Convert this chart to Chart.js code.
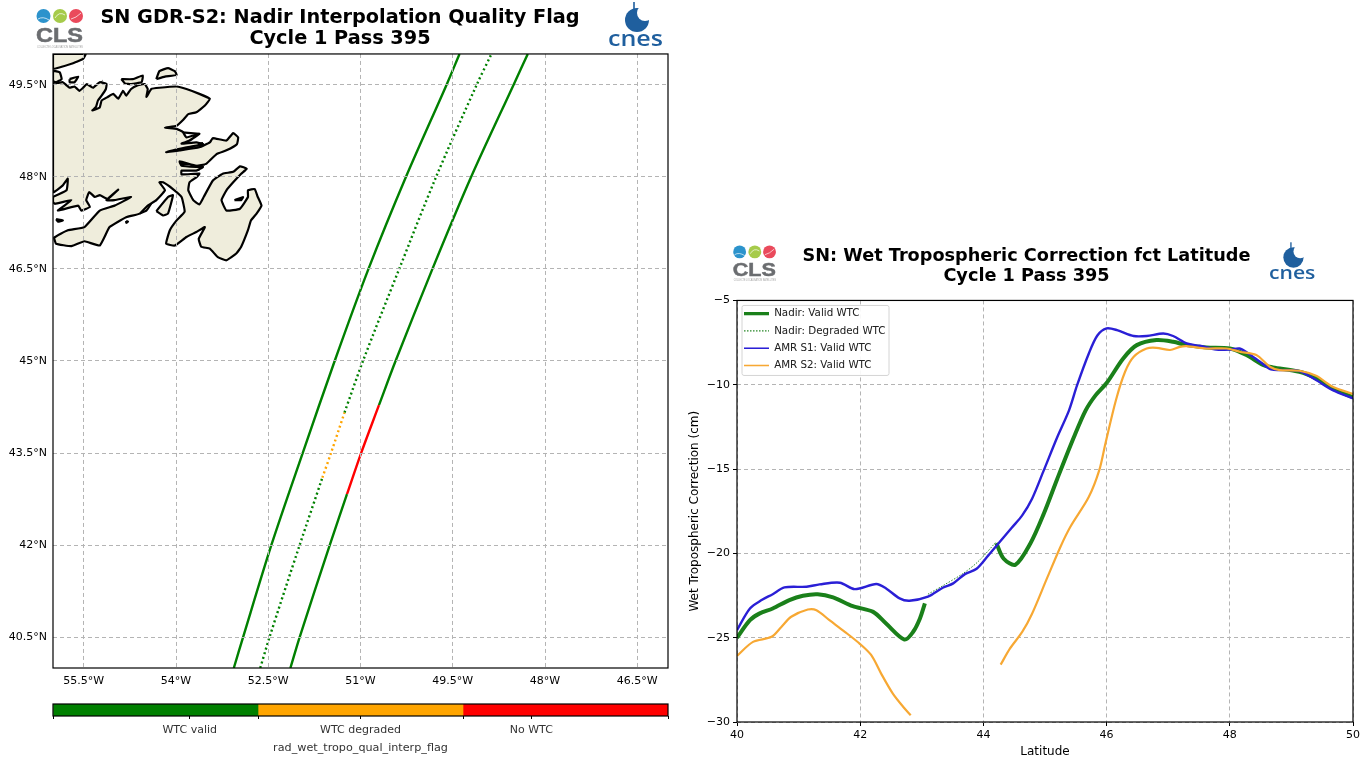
<!DOCTYPE html>
<html>
<head>
<meta charset="utf-8">
<title>SN GDR-S2 Nadir WTC</title>
<script src="https://cdn.jsdelivr.net/npm/chart.js@4/dist/chart.umd.min.js"></script>
<style>
  body { margin: 0; background: #fff; width: 1367px; height: 760px; overflow: hidden; position: relative; }
  canvas { position: absolute; filter: blur(0.4px); }
  #mapChart { left: 0; top: 0; }
  #flagChart { left: 0; top: 695px; }
  #wtcChart { left: 688px; top: 235px; }
  svg { position: absolute; left: 0; top: 0; filter: blur(0.4px); }
</style>
</head>
<body>
<canvas id="mapChart" width="680" height="695"></canvas>
<canvas id="flagChart" width="680" height="65"></canvas>
<canvas id="wtcChart" width="677" height="525"></canvas>

<!-- logos -->
<svg width="1367" height="760" xmlns="http://www.w3.org/2000/svg">
  <g id="cls">
    <circle cx="43.5" cy="16" r="7" fill="#2c93cc"/>
    <circle cx="60" cy="16" r="7" fill="#a6cb4b"/>
    <circle cx="76" cy="16" r="7" fill="#ea4a5c"/>
    <path d="M38 19q5 -3 11 1M55 18q4 -7 10 -3M71 19q5 -1 10 -6" stroke="#fff" stroke-width="1" fill="none" opacity=".7"/>
    <text x="36" y="42" font-family="Liberation Sans" font-weight="bold" font-size="20" fill="#6b6d70" stroke="#6b6d70" stroke-width=".5" textLength="47" lengthAdjust="spacingAndGlyphs">CLS</text>
    <text x="37" y="48" font-family="Liberation Sans" font-size="3.4" fill="#a0a0a0" textLength="46" lengthAdjust="spacingAndGlyphs">COLLECTE LOCALISATION SATELLITES</text>
  </g>
  <g id="cnes">
    <circle cx="637" cy="20" r="12" fill="#1f5f9e"/>
    <circle cx="645" cy="13" r="8" fill="#fff"/>
    <rect x="633.2" y="2" width="1.6" height="14" fill="#1f5f9e"/>
    <text x="608" y="46" font-family="Open Sans" font-weight="600" font-size="21" fill="#1f5f9e" textLength="55" lengthAdjust="spacingAndGlyphs">cnes</text>
  </g>
  <use href="#cls" transform="translate(699.6 237.2) scale(.92)"/>
  <use href="#cnes" transform="translate(755.2 240.6) scale(.845)"/>
</svg>

<script>
// map ticks
var lonTicks = [-55.5, -54, -52.5, -51, -49.5, -48, -46.5];
var latTicks = [40.5, 42, 43.5, 45, 46.5, 48, 49.5];

// ground tracks (lon / lat)
var westLat = [40, 40.5, 42, 43.5, 45, 46.5, 48, 49.5, 50];
var westLon = [-53.06, -52.91, -52.45, -51.94, -51.42, -50.87, -50.26, -49.60, -49.39];

var midLowLat = [40, 40.5, 42, 43.1];
var midLowLon = [-52.63, -52.48, -51.99, -51.62];
var midDegradedLat = [43.1, 43.5, 44.16];
var midDegradedLon = [-51.62, -51.48, -51.26];
var midHighLat = [44.16, 45, 46.5, 48, 49.5, 50];
var midHighLon = [-51.26, -50.96, -50.37, -49.77, -49.11, -48.87];

var eastLowLat = [40, 40.5, 42, 42.83];
var eastLowLon = [-52.14, -51.99, -51.50, -51.22];
var eastNoWtcLat = [42.83, 43.5, 44.28];
var eastNoWtcLon = [-51.22, -50.99, -50.70];
var eastHighLat = [44.28, 45, 46.5, 48, 49.5, 50];
var eastHighLon = [-50.70, -50.43, -49.83, -49.20, -48.51, -48.28];

// coast of Newfoundland, [lon, lat]
var coastMain = [
  [-56,49.54],[-55.92,49.53],[-55.84,49.54],[-55.78,49.49],[-55.73,49.45],[-55.65,49.47],[-55.57,49.40],[-55.51,49.45],
  [-55.45,49.51],[-55.35,49.45],[-55.24,49.54],[-55.13,49.51],[-55.14,49.43],[-55.21,49.32],[-55.27,49.24],[-55.30,49.14],
  [-55.36,49.08],[-55.24,49.13],[-55.21,49.24],[-55.11,49.30],[-55.02,49.35],[-54.94,49.27],[-54.86,49.40],[-54.81,49.32],
  [-54.73,49.43],[-54.62,49.49],[-54.51,49.51],[-54.46,49.43],[-54.48,49.30],[-54.40,49.43],[-54.27,49.45],[-53.99,49.47],
  [-53.83,49.43],[-53.62,49.35],[-53.45,49.27],[-53.53,49.16],[-53.67,49.05],[-53.80,49.02],[-53.89,48.92],[-53.99,48.83],
  [-54.18,48.80],[-53.99,48.78],[-53.89,48.73],[-53.83,48.64],[-53.62,48.70],[-53.78,48.59],[-53.91,48.54],[-53.67,48.56],
  [-53.56,48.53],[-53.83,48.48],[-54.16,48.40],[-53.94,48.43],[-53.62,48.48],[-53.45,48.56],[-53.40,48.63],[-53.18,48.59],
  [-53.07,48.71],[-52.99,48.64],[-53.01,48.53],[-53.18,48.43],[-53.34,48.37],[-53.51,48.21],[-53.67,48.18],[-53.94,48.25],
  [-53.91,48.18],[-53.67,48.16],[-53.56,48.16],[-53.67,48.10],[-53.91,48.10],[-53.91,48.04],[-53.62,48.05],[-53.67,47.99],
  [-53.78,47.91],[-53.80,47.78],[-53.72,47.62],[-53.62,47.55],[-53.55,47.67],[-53.40,47.94],[-53.24,48.05],[-53.07,48.08],
  [-52.96,48.17],[-52.85,48.13],[-52.94,48.05],[-53.07,47.91],[-53.18,47.78],[-53.26,47.62],[-53.18,47.45],[-52.96,47.48],
  [-52.83,47.67],[-52.83,47.78],[-52.72,47.80],[-52.67,47.67],[-52.61,47.53],[-52.69,47.40],[-52.78,47.29],[-52.83,47.13],
  [-52.94,46.86],[-53.02,46.75],[-53.18,46.64],[-53.32,46.69],[-53.45,46.83],[-53.59,46.86],[-53.63,46.99],[-53.53,47.18],
  [-53.67,47.10],[-53.83,47.02],[-54.02,46.88],[-54.16,46.91],[-54.10,47.13],[-53.99,47.29],[-53.86,47.43],[-53.91,47.67],
  [-54.05,47.80],[-54.21,47.91],[-54.27,47.91],[-54.18,47.78],[-54.32,47.62],[-54.46,47.53],[-54.59,47.40],[-54.81,47.34],
  [-55.08,47.18],[-55.24,46.88],[-55.49,46.95],[-55.70,46.87],[-55.95,46.91],[-55.98,47.01],[-55.76,47.13],[-55.49,47.18],
  [-55.24,47.45],[-55.00,47.53],[-54.73,47.67],[-55.00,47.62],[-55.13,47.62],[-54.94,47.79],[-55.11,47.64],[-55.24,47.70],
  [-55.32,47.67],[-55.41,47.75],[-55.46,47.62],[-55.40,47.51],[-55.54,47.45],[-55.59,47.53],[-55.92,47.45],[-55.70,47.62],
  [-55.97,47.56],[-56,47.59],[-56,47.67],[-55.78,47.78],[-55.76,47.97],[-55.84,47.86],[-56,47.75],[-56,49.54]
];
var coastNorth = [[-56,50],[-55.47,50],[-55.51,49.92],[-55.70,49.84],[-56,49.76],[-56,50]];
var coastHook = [[-56,49.73],[-55.89,49.70],[-55.86,49.59],[-55.95,49.54],[-56,49.56],[-56,49.73]];
var islands = [
  [[-54.32,49.59],[-54.27,49.72],[-54.13,49.77],[-54.02,49.72],[-53.99,49.66],[-54.18,49.63],[-54.32,49.59]],
  [[-54.89,49.59],[-54.70,49.59],[-54.54,49.65],[-54.56,49.54],[-54.73,49.51],[-54.83,49.52],[-54.89,49.59]],
  [[-55.73,49.59],[-55.59,49.63],[-55.65,49.54],[-55.73,49.54],[-55.73,49.59]],
  [[-55.95,47.31],[-55.84,47.29],[-55.92,47.27],[-55.95,47.31]],
  [[-54.81,47.28],[-54.78,47.27],[-54.81,47.25],[-54.81,47.28]],
  [[-53.05,47.62],[-52.91,47.67],[-52.94,47.62],[-53.05,47.62]],
  [[-54.59,47.40],[-54.43,47.59],[-54.37,47.62],[-54.48,47.45],[-54.59,47.40]],
  [[-54.32,47.44],[-54.13,47.67],[-54.05,47.70],[-54.13,47.40],[-54.21,47.37],[-54.32,47.44]]
];
var inlets = [
  [[-55.43,49.49],[-55.32,49.39],[-55.24,49.49],[-55.30,49.32]],
  [[-56,47.67],[-55.65,47.70]],
  [[-55.97,47.59],[-55.62,47.64]],
  [[-54.18,48.82],[-53.97,48.85]],
  [[-53.99,48.73],[-53.62,48.70]],
  [[-53.99,48.48],[-53.56,48.55]],
  [[-53.94,48.21],[-53.53,48.20]],
  [[-53.91,48.13],[-53.62,48.11]]
];

// colorbar
var flagNames = ["WTC valid", "WTC degraded", "No WTC"];
var flagSpans = [1, 1, 1];
var flagColors = ["#008000", "#ffa500", "#ff0000"];
var flagTicks = [0, 0.667, 1, 1.5, 2, 2.333, 3];
var flagTickLabels = ["", "WTC valid", "", "WTC degraded", "", "No WTC", ""];

// WTC curves, null marks a gap in a series
var nadirLat = [40,40.21,40.37,40.58,40.85,41.07,41.31,41.56,41.88,42.21,42.42,42.72,42.86,42.97,43.05,43.1,
  44.21,44.33,44.52,44.76,44.98,45.20,45.47,45.66,45.82,46.0,46.27,46.49,46.81,47.08,47.30,47.62,48.0,48.27,48.54,48.70,49.13,49.40,49.67,50];
var nadirWtc = [-25,-23.96,-23.56,-23.27,-22.77,-22.51,-22.42,-22.61,-23.13,-23.47,-24.16,-25.11,-24.65,-23.86,-22.97,null,
  -19.39,-20.32,-20.67,-19.43,-17.65,-15.57,-13.10,-11.52,-10.63,-9.9,-8.44,-7.65,-7.35,-7.45,-7.65,-7.79,-7.85,-8.24,-8.83,-8.97,-9.23,-9.62,-10.22,-10.75];
var degradedLat = [43.10,43.34,43.67,43.91,44.21];
var degradedWtc = [-22.42,-21.92,-21.19,-20.50,-19.31];
var amr1Lat = [40,40.21,40.40,40.58,40.77,41.13,41.34,41.67,41.91,42.26,42.42,42.64,42.80,43.10,43.34,43.51,43.70,43.89,44.08,44.24,44.46,44.63,44.79,44.98,45.20,45.39,45.52,45.71,45.85,46.0,46.17,46.44,46.65,46.92,47.08,47.30,47.51,47.78,48.0,48.16,48.30,48.49,48.67,48.86,49.13,49.40,49.67,50];
var amr1Wtc = [-24.55,-23.27,-22.77,-22.42,-22.02,-21.98,-21.84,-21.74,-22.12,-21.82,-22.08,-22.67,-22.81,-22.57,-22.04,-21.78,-21.23,-20.91,-20.12,-19.43,-18.48,-17.75,-16.76,-15.08,-13.10,-11.52,-10.04,-8.16,-7.08,-6.66,-6.76,-7.11,-7.11,-6.96,-7.11,-7.55,-7.69,-7.91,-7.91,-7.85,-8.14,-8.64,-9.09,-9.13,-9.19,-9.72,-10.32,-10.81];
var amr2Lat = [40,40.26,40.56,40.72,40.88,41.15,41.29,41.50,41.75,41.99,42.18,42.34,42.53,42.70,42.82,43.5,
  44.28,44.43,44.63,44.79,45.03,45.25,45.41,45.71,45.88,45.98,46.15,46.30,46.44,46.65,46.81,47.03,47.19,47.30,47.62,47.95,48.16,48.43,48.65,48.81,49.13,49.40,49.67,50];
var amr2Wtc = [-26.08,-25.25,-24.95,-24.36,-23.76,-23.33,-23.37,-23.96,-24.65,-25.35,-26.04,-27.13,-28.32,-29.11,-29.60,null,
  -26.60,-25.65,-24.66,-23.58,-21.50,-19.62,-18.44,-16.66,-15.08,-13.50,-10.93,-9.23,-8.34,-7.85,-7.81,-7.94,-7.75,-7.71,-7.85,-7.85,-8.04,-8.24,-8.93,-9.13,-9.17,-9.47,-10.12,-10.55];

var tickFont = { family: "DejaVu Sans", size: 11 };
var gridColor = "#b4b4b4";
var gridDash = [4, 3];

function toPoints(xs, ys) {
  return xs.map(function(x, i) { return { x: x, y: ys[i] }; });
}
function pairsToPoints(pairs) {
  return pairs.map(function(p) { return { x: p[0], y: p[1] }; });
}
function trackSet(xs, ys, color, dotted) {
  return {
    data: toPoints(xs, ys), showLine: true, pointRadius: 0, tension: 0.3,
    borderColor: color, borderWidth: 2.4,
    borderDash: dotted ? [2, 2.8] : []
  };
}
function landSet(pairs) {
  return {
    data: pairsToPoints(pairs), showLine: true, pointRadius: 0, tension: 0.12,
    borderColor: "#000", borderWidth: 2.2, backgroundColor: "#efeddc", fill: "shape"
  };
}
function inletSet(pairs) {
  return { data: pairsToPoints(pairs), showLine: true, pointRadius: 0, borderColor: "#000", borderWidth: 2.2 };
}

// black box round the plot, titles sit a little right of the layout centre
var framePlugin = {
  id: "frame",
  afterLayout: function(chart) {
    if (chart.options.plugins.title.display) {
      chart.titleBlock.left += 6;
      chart.titleBlock.right += 6;
    }
  },
  afterDraw: function(chart) {
    var a = chart.chartArea, c = chart.ctx;
    c.save();
    c.strokeStyle = "#000";
    c.lineWidth = 1.2;
    c.strokeRect(a.left, a.top, a.right - a.left, a.bottom - a.top);
    c.restore();
  }
};

// matplotlib style legend box inside the axes
var legendBoxPlugin = {
  id: "legendBox",
  afterLayout: function(chart) {
    chart.legend.left = chart.chartArea.left;
    chart.legend.top = chart.chartArea.top + 1;
  },
  afterDatasetsDraw: function(chart) {
    var a = chart.chartArea, c = chart.ctx;
    c.save();
    c.fillStyle = "rgba(255,255,255,0.9)";
    c.strokeStyle = "#d4d4d4";
    c.lineWidth = 1;
    c.beginPath();
    c.roundRect(a.left + 5, a.top + 5, 147, 70, 2);
    c.fill();
    c.stroke();
    c.restore();
    chart.legend.draw();
  }
};

// map of the ground tracks
var mapSets = [
  trackSet(westLon, westLat, "#008000", false),
  trackSet(midLowLon, midLowLat, "#008000", true),
  trackSet(midDegradedLon, midDegradedLat, "#ffa500", true),
  trackSet(midHighLon, midHighLat, "#008000", true),
  trackSet(eastLowLon, eastLowLat, "#008000", false),
  trackSet(eastNoWtcLon, eastNoWtcLat, "#ff0000", false),
  trackSet(eastHighLon, eastHighLat, "#008000", false),
  landSet(coastMain), landSet(coastNorth), landSet(coastHook)
];
islands.forEach(function(p) { mapSets.push(landSet(p)); });
inlets.forEach(function(p) { mapSets.push(inletSet(p)); });

new Chart(document.getElementById("mapChart").getContext("2d"), {
  type: "scatter",
  data: { datasets: mapSets },
  options: {
    responsive: false,
    animation: false,
    layout: { padding: { right: 12 } },
    plugins: {
      legend: { display: false },
      tooltip: { enabled: false },
      title: {
        display: true,
        text: ["SN GDR-S2: Nadir Interpolation Quality Flag", "Cycle 1 Pass 395"],
        color: "#000",
        font: { family: "DejaVu Sans", size: 19.3, weight: "bold", lineHeight: 1.1 },
        padding: { top: 7, bottom: 4.5 }
      }
    },
    scales: {
      x: {
        type: "linear", min: -56, max: -46,
        afterBuildTicks: function(s) { s.ticks = lonTicks.map(function(v) { return { value: v }; }); },
        afterFit: function(s) { s.height = 27; },
        grid: { z: 1, color: gridColor, drawTicks: false },
        border: { display: false, dash: gridDash },
        ticks: {
          color: "#000", font: tickFont, padding: 7, maxRotation: 0, autoSkip: false,
          callback: function(v) { return Math.abs(v) + "°W"; }
        }
      },
      y: {
        type: "linear", min: 40, max: 50,
        afterBuildTicks: function(s) { s.ticks = latTicks.map(function(v) { return { value: v }; }); },
        afterFit: function(s) { s.width = 53; },
        grid: { z: 1, color: gridColor, drawTicks: false },
        border: { display: false, dash: gridDash },
        ticks: {
          color: "#000", font: tickFont, padding: 6, autoSkip: false,
          callback: function(v) { return v + "°N"; }
        }
      }
    }
  },
  plugins: [framePlugin]
});

// colorbar under the map
new Chart(document.getElementById("flagChart").getContext("2d"), {
  type: "bar",
  data: {
    labels: ["flag"],
    datasets: flagNames.map(function(name, i) {
      return { label: name, data: [flagSpans[i]], backgroundColor: flagColors[i], barPercentage: 1, categoryPercentage: 1 };
    })
  },
  options: {
    indexAxis: "y",
    responsive: false,
    animation: false,
    layout: { padding: { left: 53, right: 12, top: 9 } },
    plugins: { legend: { display: false }, tooltip: { enabled: false }, title: { display: false } },
    scales: {
      x: {
        type: "linear", stacked: true, min: 0, max: 3,
        afterBuildTicks: function(s) { s.ticks = flagTicks.map(function(v) { return { value: v }; }); },
        afterFit: function(s) { s.height = 44; },
        grid: { drawOnChartArea: false, tickColor: "#000", tickLength: 3 },
        border: { display: false },
        ticks: {
          color: "#333", font: tickFont, padding: 5, maxRotation: 0, autoSkip: false,
          callback: function(v, i) { return flagTickLabels[i]; }
        },
        title: {
          display: true, text: "rad_wet_tropo_qual_interp_flag", color: "#333",
          font: { family: "DejaVu Sans", size: 11.2 }, padding: { top: 3, bottom: 5 }
        }
      },
      y: { stacked: true, display: false }
    }
  },
  plugins: [framePlugin]
});

// WTC against latitude
new Chart(document.getElementById("wtcChart").getContext("2d"), {
  type: "scatter",
  data: {
    datasets: [
      { label: "Nadir: Valid WTC", data: toPoints(nadirLat, nadirWtc), showLine: true, pointRadius: 0, tension: 0.3,
        borderColor: "#1a801a", borderWidth: 4, order: 4 },
      { label: "Nadir: Degraded WTC", data: toPoints(degradedLat, degradedWtc), showLine: true, pointRadius: 0, tension: 0.3,
        borderColor: "#2e8b2e", borderWidth: 1, borderDash: [1.5, 1.5], order: 3 },
      { label: "AMR S1: Valid WTC", data: toPoints(amr1Lat, amr1Wtc), showLine: true, pointRadius: 0, tension: 0.3,
        borderColor: "#2a1fd6", borderWidth: 2.4, order: 2 },
      { label: "AMR S2: Valid WTC", data: toPoints(amr2Lat, amr2Wtc), showLine: true, pointRadius: 0, tension: 0.3,
        borderColor: "#f7a833", borderWidth: 2.2, order: 1 }
    ]
  },
  options: {
    responsive: false,
    animation: false,
    layout: { padding: { right: 12 } },
    plugins: {
      tooltip: { enabled: false },
      title: {
        display: true,
        text: ["SN: Wet Tropospheric Correction fct Latitude", "Cycle 1 Pass 395"],
        color: "#000",
        font: { family: "DejaVu Sans", size: 17.7, weight: "bold", lineHeight: 1.1 },
        padding: { top: 12, bottom: 14.5 }
      },
      legend: {
        position: "chartArea",
        align: "start",
        labels: {
          color: "#222",
          font: { family: "DejaVu Sans", size: 10.3 },
          usePointStyle: true,
          pointStyle: "line",
          pointStyleWidth: 25,
          padding: 7,
          generateLabels: function(chart) {
            return chart.data.datasets.map(function(d) {
              return {
                text: d.label, strokeStyle: d.borderColor, fillStyle: d.borderColor,
                lineWidth: d.order == 4 ? 3.2 : 1.4, lineDash: d.borderDash || [], pointStyle: "line", fontColor: "#222"
              };
            });
          }
        }
      }
    },
    scales: {
      x: {
        type: "linear", min: 40, max: 50,
        afterFit: function(s) { s.height = 38; },
        grid: { color: gridColor, tickColor: "#000", tickLength: 4 },
        border: { display: false, dash: gridDash },
        ticks: { stepSize: 2, color: "#000", font: tickFont, padding: 3, maxRotation: 0 },
        title: { display: true, text: "Latitude", color: "#000", font: { family: "DejaVu Sans", size: 12 }, padding: { top: 3, bottom: 1 } }
      },
      y: {
        type: "linear", min: -30, max: -5,
        afterFit: function(s) { s.width = 49; },
        grid: { color: gridColor, tickColor: "#000", tickLength: 4 },
        border: { display: false, dash: gridDash },
        ticks: {
          stepSize: 5, color: "#000", font: tickFont, padding: 3,
          callback: function(v) { return String(v).replace("-", "\u2212"); }
        },
        title: { display: true, text: "Wet Tropospheric Correction (cm)", color: "#000", font: { family: "DejaVu Sans", size: 12 }, padding: { top: 0, bottom: 0 } }
      }
    }
  },
  plugins: [framePlugin, legendBoxPlugin]
});
</script>
</body>
</html>
